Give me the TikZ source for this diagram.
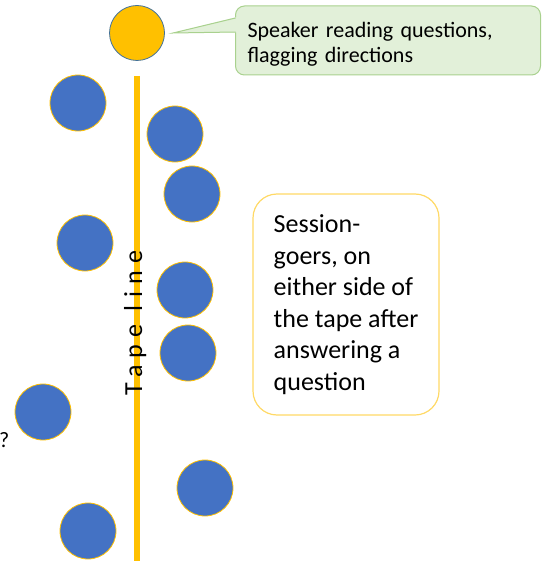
\documentclass[tikz,border=0pt]{standalone}
\usepackage{fontspec}
\setmainfont{Carlito}
\definecolor{tapegold}{HTML}{FFC000}
\definecolor{goerblue}{HTML}{4472C4}
\definecolor{speakerrim}{HTML}{41719C}
\definecolor{notegreen}{HTML}{E2F0D9}
\definecolor{noterim}{HTML}{A9D18E}
\definecolor{boxrim}{HTML}{FFD966}

\begin{document}
\begin{tikzpicture}[x=1pt,y=1pt,
		goer/.style={circle,fill=goerblue,draw=tapegold,line width=0.8pt,minimum size=56pt,inner sep=0pt},
		speakerdot/.style={circle,fill=tapegold,draw=speakerrim,line width=0.8pt,minimum size=55pt,inner sep=0pt}]
		\useasboundingbox (0,0) rectangle (544,-561);
		% the tape on the floor
		\coordinate (tapetop) at (137,-76); \coordinate (tapeend) at (137,-561);
		\draw[tapegold,line width=6pt] (tapetop) -- (tapeend);
		\node[speakerdot] (speaker) at (137,-33) {};
		\foreach \name/\x/\y in {g1/78/103,g2/175/134,g3/192/194,g4/85/243,g5/185/290,g6/188/353,g7/43/412,g8/205/488,g9/88/531}
			\node[goer] (\name) at (\x,-\y) {};
		\node[rotate=90,anchor=base west,inner sep=0pt,font=\fontsize{26}{30}\selectfont\addfontfeature{LetterSpace=28}] (tapelabel) at (142,-396) {Tape line};
		% callout of the speaker
		\node[draw=noterim,fill=notegreen,line width=1pt,rounded corners=9pt,minimum height=69pt,anchor=west,align=left,text width=281pt,inner xsep=12pt,font=\fontsize{22}{25.5}\selectfont] (note) at (235,-40.5) {\rule{0pt}{23pt}Speaker reading questions,\\flagging directions};
		\coordinate (tip) at (173,-33);
		\fill[notegreen] (238,-17.5) -- (235,-17.5) -- (tip) -- (235,-32.5) -- (238,-32.5) -- cycle;
		\draw[noterim,line width=1pt] (235.5,-18) -- (tip) -- (235.5,-32);
		\node[draw=boxrim,line width=1.2pt,rounded corners=24pt,minimum width=186pt,minimum height=221pt,align=left,font=\fontsize{26}{31.5}\selectfont] (session) at (346,-304.5) {Session-\\goers, on\\either side of\\the tape after\\answering a\\question};
		\node[anchor=base west,inner sep=0pt,font=\fontsize{22}{26}\selectfont] (query) at (-1,-447) {?};
\end{tikzpicture}
\end{document}
